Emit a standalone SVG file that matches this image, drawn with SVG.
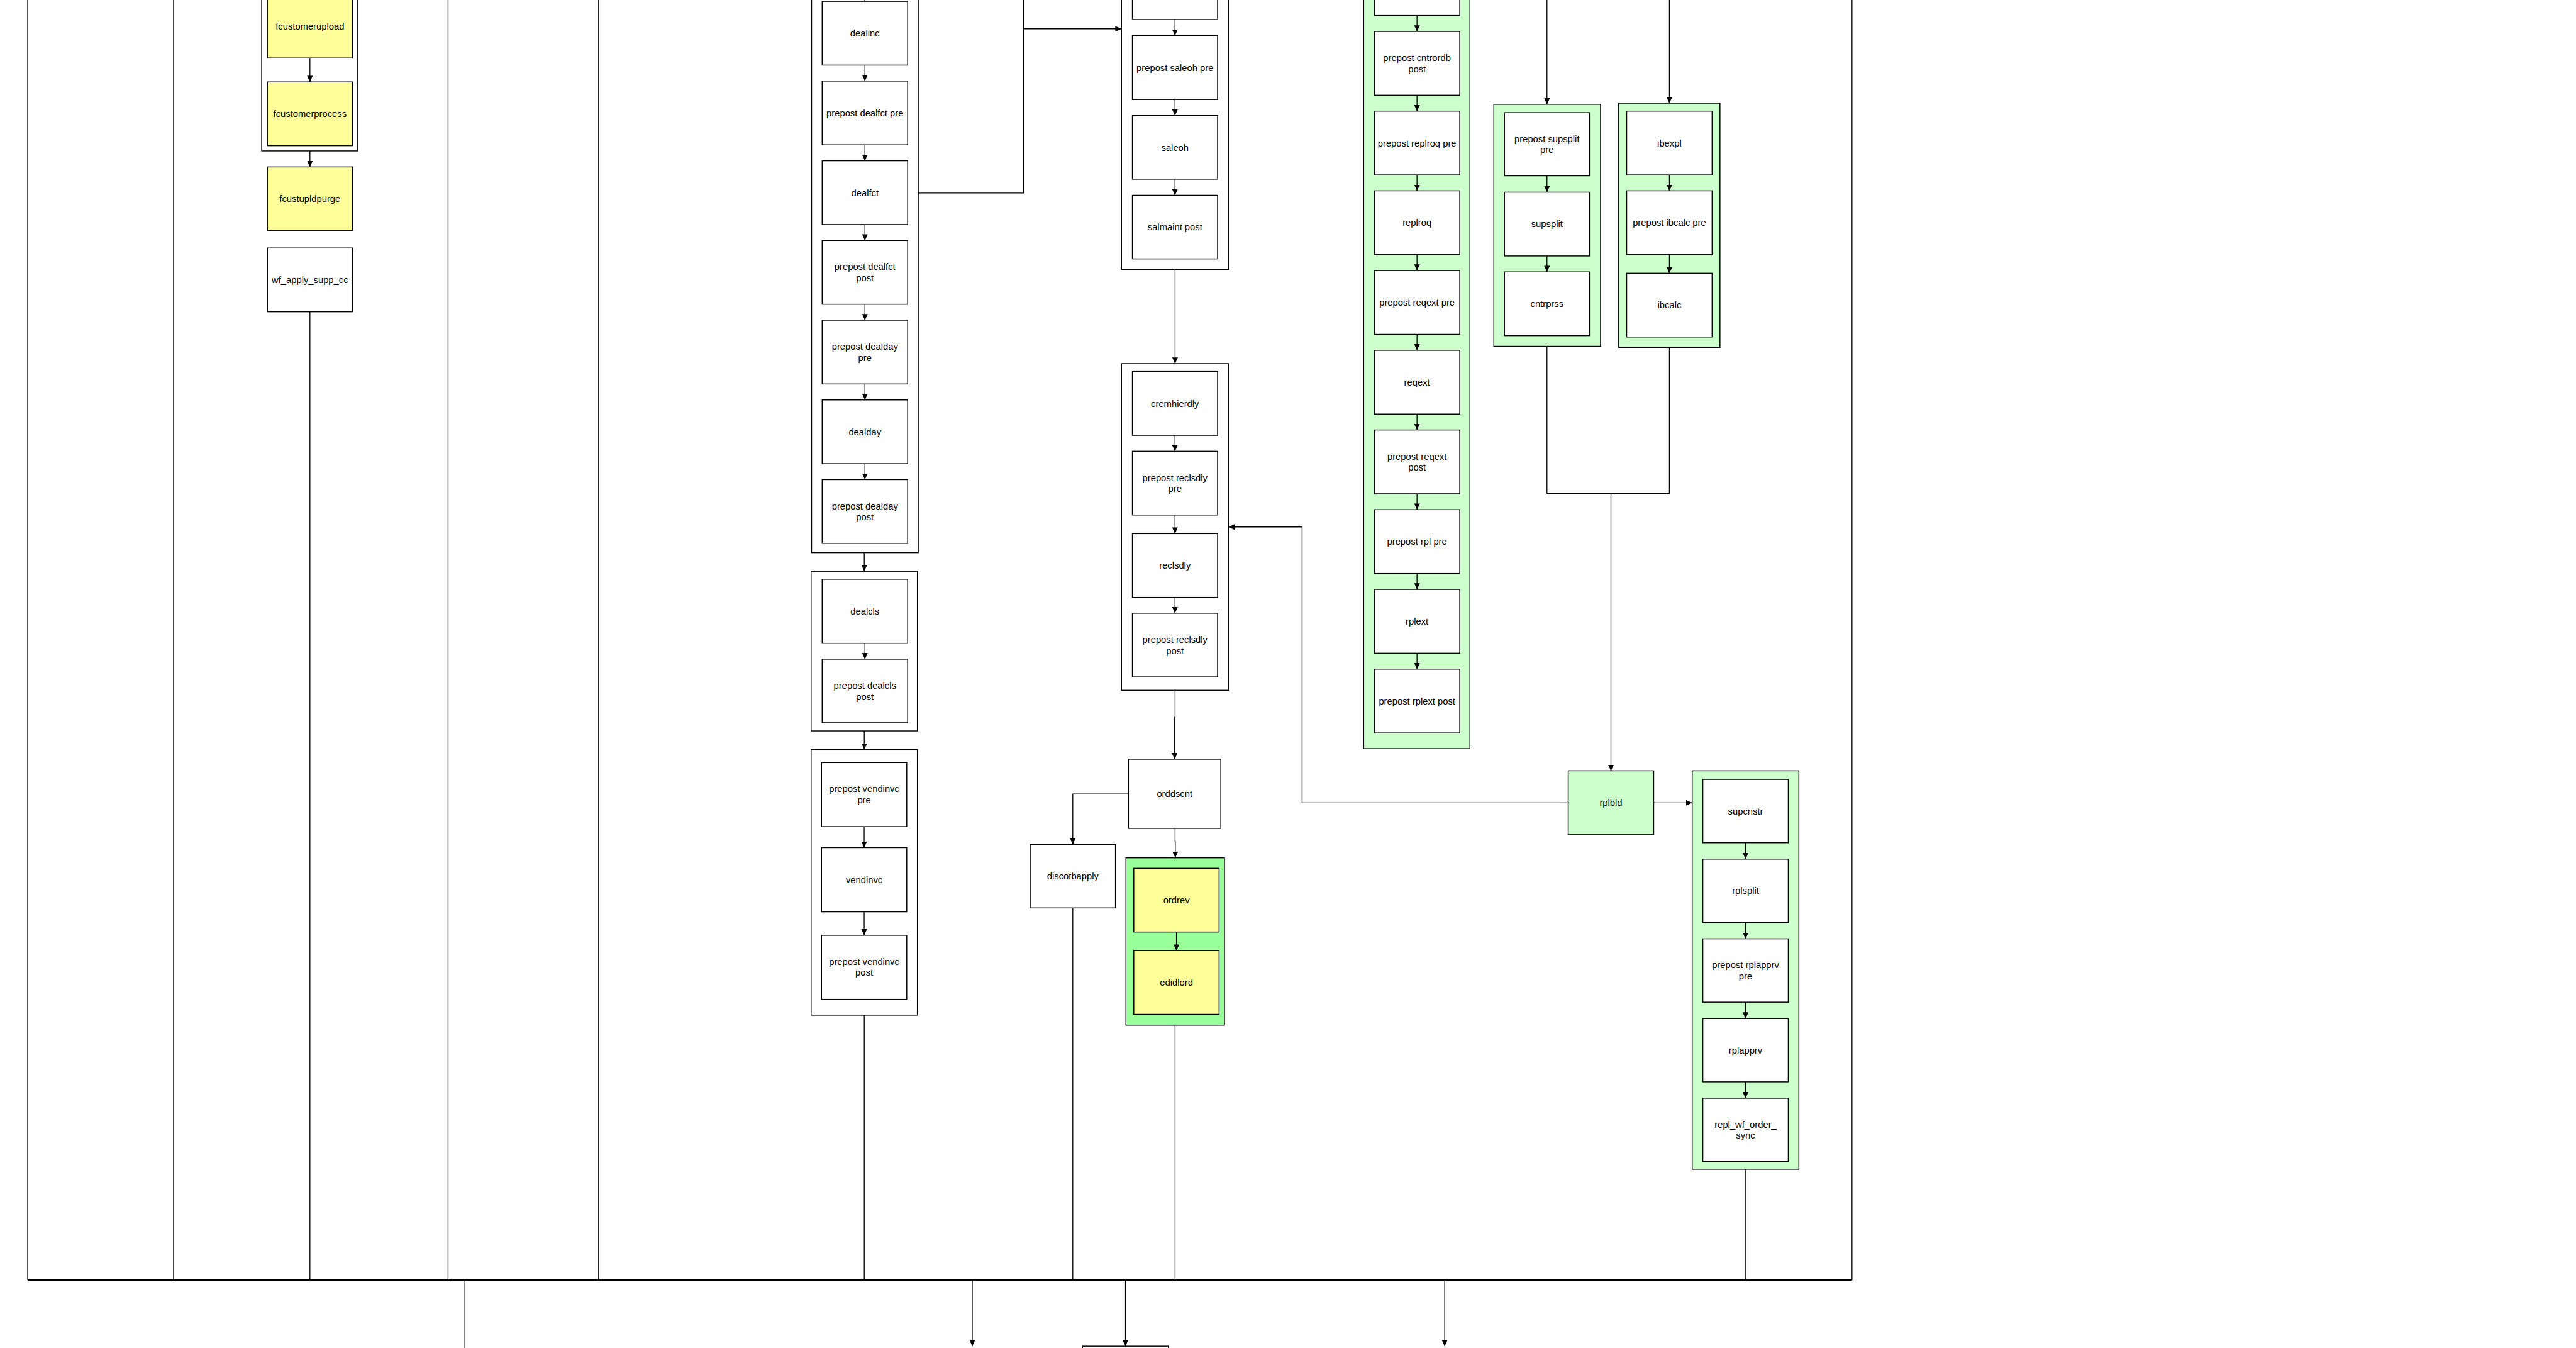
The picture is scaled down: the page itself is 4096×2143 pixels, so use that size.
<svg xmlns="http://www.w3.org/2000/svg" width="4096" height="2143" viewBox="0 0 4096 2143">
<style>
.n{fill:#ffffff;stroke:#000;stroke-width:2.1}
.grp{fill:#ffffff;stroke:#000;stroke-width:2.1}
.y{fill:#ffff99}
.g{fill:#ccffcc}
.gg{fill:#99ff99}
.lane{fill:none;stroke:#000;stroke-width:1.9}
.bar{fill:none;stroke:#000;stroke-width:2.8}
.c{fill:none;stroke:#000;stroke-width:1.9}
.a{marker-end:url(#ah)}
text{font-family:"Liberation Sans",Arial,Helvetica,sans-serif;font-size:21px;text-anchor:middle;fill:#000}
</style>
<defs>
<marker id="ah" markerUnits="userSpaceOnUse" markerWidth="14" markerHeight="13" refX="14" refY="6.5" orient="auto"><path d="M0,0L14,6.5L0,13z" fill="#000"/></marker>
</defs>
<rect x="0" y="0" width="4096" height="2143" fill="#ffffff"/>
<g transform="scale(0.704)">
<g id="lanes">
<line class="lane" x1="62.5" y1="-10" x2="62.5" y2="2890.7"/>
<line class="lane" x1="392" y1="-10" x2="392" y2="2890.7"/>
<line class="lane" x1="1012" y1="-10" x2="1012" y2="2890.7"/>
<line class="lane" x1="1352" y1="-10" x2="1352" y2="2890.7"/>
<line class="lane" x1="4183" y1="-10" x2="4183" y2="2890.7"/>
<line class="bar" x1="62.5" y1="2890.7" x2="4183" y2="2890.7"/>
</g>

<g id="grp_fcustomer"><rect class="grp" x="591" y="-60" width="217" height="400.8"/></g>
<g id="n_fcustomerupload"><rect class="n y" x="604" y="-13" width="192" height="144"/><text x="700" y="66.5">fcustomerupload</text></g>
<g id="n_fcustomerprocess"><rect class="n y" x="604" y="185" width="192" height="144"/><text x="700" y="264.5">fcustomerprocess</text></g>
<g id="n_fcustupldpurge"><rect class="n y" x="604" y="377" width="192" height="144"/><text x="700" y="456.5">fcustupldpurge</text></g>
<g id="n_wf_apply_supp_cc"><rect class="n" x="604" y="560" width="192" height="144"/><text x="700" y="639.5">wf_apply_supp_cc</text></g>

<g id="grp_dealinc"><rect class="grp" x="1833" y="-60" width="241" height="1308"/></g>
<g id="n_dealinc"><rect class="n" x="1857" y="3" width="193" height="144"/><text x="1953.5" y="82.5">dealinc</text></g>
<g id="n_prepost_dealfct_pre"><rect class="n" x="1857" y="183" width="193" height="144"/><text x="1953.5" y="262.5">prepost dealfct pre</text></g>
<g id="n_dealfct"><rect class="n" x="1857" y="363" width="193" height="144"/><text x="1953.5" y="442.5">dealfct</text></g>
<g id="n_prepost_dealfct_post"><rect class="n" x="1857" y="543" width="193" height="144"/><text x="1953.5" y="610">prepost dealfct<tspan x="1953.5" dy="25">post</tspan></text></g>
<g id="n_prepost_dealday_pre"><rect class="n" x="1857" y="723" width="193" height="144"/><text x="1953.5" y="790">prepost dealday<tspan x="1953.5" dy="25">pre</tspan></text></g>
<g id="n_dealday"><rect class="n" x="1857" y="903" width="193" height="144"/><text x="1953.5" y="982.5">dealday</text></g>
<g id="n_prepost_dealday_post"><rect class="n" x="1857" y="1083" width="193" height="144"/><text x="1953.5" y="1150">prepost dealday<tspan x="1953.5" dy="25">post</tspan></text></g>

<g id="grp_dealcls"><rect class="grp" x="1832" y="1290" width="240" height="360.6"/></g>
<g id="n_dealcls"><rect class="n" x="1857" y="1308" width="193" height="144.7"/><text x="1953.5" y="1387.8">dealcls</text></g>
<g id="n_prepost_dealcls_post"><rect class="n" x="1857" y="1488.5" width="193" height="143.5"/><text x="1953.5" y="1555.3">prepost dealcls<tspan x="1953.5" dy="25">post</tspan></text></g>

<g id="grp_vendinvc"><rect class="grp" x="1832" y="1692.6" width="240" height="599.8"/></g>
<g id="n_prepost_vendinvc_pre"><rect class="n" x="1855.5" y="1722" width="192.5" height="144.6"/><text x="1951.8" y="1788.5">prepost vendinvc<tspan x="1951.8" dy="25">pre</tspan></text></g>
<g id="n_vendinvc"><rect class="n" x="1855.5" y="1914" width="192.5" height="145"/><text x="1951.8" y="1994">vendinvc</text></g>
<g id="n_prepost_vendinvc_post"><rect class="n" x="1855.5" y="2112" width="192.5" height="144.7"/><text x="1951.8" y="2178.5">prepost vendinvc<tspan x="1951.8" dy="25">post</tspan></text></g>

<g id="grp_saleoh"><rect class="grp" x="2533" y="-150" width="241.5" height="758.6"/></g>
<g id="n_saleoh_prev"><rect class="n" x="2557.6" y="-100" width="192.4" height="144"/></g>
<g id="n_prepost_saleoh_pre"><rect class="n" x="2557.6" y="80.4" width="192.4" height="144.3"/><text x="2653.8" y="160">prepost saleoh pre</text></g>
<g id="n_saleoh"><rect class="n" x="2557.6" y="261" width="192.4" height="143.6"/><text x="2653.8" y="340.5">saleoh</text></g>
<g id="n_salmaint_post"><rect class="n" x="2557.6" y="441" width="192.4" height="143.6"/><text x="2653.8" y="520.5">salmaint post</text></g>

<g id="grp_cremhierdly"><rect class="grp" x="2533" y="821" width="241.5" height="737.7"/></g>
<g id="n_cremhierdly"><rect class="n" x="2557.6" y="839" width="192.4" height="144"/><text x="2653.8" y="918.5">cremhierdly</text></g>
<g id="n_prepost_reclsdly_pre"><rect class="n" x="2557.6" y="1019" width="192.4" height="144"/><text x="2653.8" y="1086">prepost reclsdly<tspan x="2653.8" dy="25">pre</tspan></text></g>
<g id="n_reclsdly"><rect class="n" x="2557.6" y="1205" width="192.4" height="144"/><text x="2653.8" y="1284.5">reclsdly</text></g>
<g id="n_prepost_reclsdly_post"><rect class="n" x="2557.6" y="1384.7" width="192.4" height="143.8"/><text x="2653.8" y="1451.6">prepost reclsdly<tspan x="2653.8" dy="25">post</tspan></text></g>

<g id="n_orddscnt"><rect class="n" x="2548.7" y="1714.4" width="208.6" height="156.2"/><text x="2653" y="1800">orddscnt</text></g>
<g id="n_discotbapply"><rect class="n" x="2326.8" y="1907" width="192.6" height="143.2"/><text x="2423.1" y="1986">discotbapply</text></g>
<g id="grp_ordrev"><rect class="grp gg" x="2543" y="1937" width="222.6" height="378"/></g>
<g id="n_ordrev"><rect class="n y" x="2560.8" y="1960.7" width="192.6" height="143.9"/><text x="2657.1" y="2040">ordrev</text></g>
<g id="n_edidlord"><rect class="n y" x="2560.8" y="2146.7" width="192.6" height="143.8"/><text x="2657.1" y="2226">edidlord</text></g>

<g id="grp_cntrordb"><rect class="grp g" x="3080" y="-200" width="240" height="1890.5"/></g>
<g id="n_cntrordb_prev"><rect class="n" x="3104" y="-109" width="193" height="144"/></g>
<g id="n_prepost_cntrordb_post"><rect class="n" x="3104" y="71" width="193" height="144"/><text x="3200.5" y="138">prepost cntrordb<tspan x="3200.5" dy="25">post</tspan></text></g>
<g id="n_prepost_replroq_pre"><rect class="n" x="3104" y="251" width="193" height="144"/><text x="3200.5" y="330.5">prepost replroq pre</text></g>
<g id="n_replroq"><rect class="n" x="3104" y="431" width="193" height="144"/><text x="3200.5" y="510.5">replroq</text></g>
<g id="n_prepost_reqext_pre"><rect class="n" x="3104" y="611" width="193" height="144"/><text x="3200.5" y="690.5">prepost reqext pre</text></g>
<g id="n_reqext"><rect class="n" x="3104" y="791" width="193" height="144"/><text x="3200.5" y="870.5">reqext</text></g>
<g id="n_prepost_reqext_post"><rect class="n" x="3104" y="971" width="193" height="144"/><text x="3200.5" y="1038">prepost reqext<tspan x="3200.5" dy="25">post</tspan></text></g>
<g id="n_prepost_rpl_pre"><rect class="n" x="3104" y="1151" width="193" height="144"/><text x="3200.5" y="1230.5">prepost rpl pre</text></g>
<g id="n_rplext"><rect class="n" x="3104" y="1331" width="193" height="144"/><text x="3200.5" y="1410.5">rplext</text></g>
<g id="n_prepost_rplext_post"><rect class="n" x="3104" y="1511" width="193" height="144"/><text x="3200.5" y="1590.5">prepost rplext post</text></g>

<g id="grp_supsplit"><rect class="grp g" x="3374" y="235.5" width="241" height="546.5"/></g>
<g id="n_prepost_supsplit_pre"><rect class="n" x="3398" y="254.5" width="192" height="142.5"/><text x="3494" y="320.8">prepost supsplit<tspan x="3494" dy="25">pre</tspan></text></g>
<g id="n_supsplit"><rect class="n" x="3398" y="434" width="192" height="144"/><text x="3494" y="513.5">supsplit</text></g>
<g id="n_cntrprss"><rect class="n" x="3398" y="614" width="192" height="144"/><text x="3494" y="693.5">cntrprss</text></g>

<g id="grp_ibexpl"><rect class="grp g" x="3656" y="233" width="228.7" height="551.6"/></g>
<g id="n_ibexpl"><rect class="n" x="3674" y="251" width="193" height="144"/><text x="3770.5" y="330.5">ibexpl</text></g>
<g id="n_prepost_ibcalc_pre"><rect class="n" x="3674" y="431" width="193" height="144"/><text x="3770.5" y="510.5">prepost ibcalc pre</text></g>
<g id="n_ibcalc"><rect class="n" x="3674" y="617" width="193" height="144"/><text x="3770.5" y="696.5">ibcalc</text></g>

<g id="n_rplbld"><rect class="n g" x="3542" y="1740.6" width="193" height="144.2"/><text x="3638.5" y="1820.2">rplbld</text></g>

<g id="grp_rpl"><rect class="grp g" x="3822" y="1740.6" width="241" height="899.8"/></g>
<g id="n_supcnstr"><rect class="n" x="3846" y="1760" width="193" height="143"/><text x="3942.5" y="1839">supcnstr</text></g>
<g id="n_rplsplit"><rect class="n" x="3846" y="1940" width="193" height="143"/><text x="3942.5" y="2019">rplsplit</text></g>
<g id="n_prepost_rplapprv_pre"><rect class="n" x="3846" y="2120" width="193" height="143"/><text x="3942.5" y="2186.5">prepost rplapprv<tspan x="3942.5" dy="25">pre</tspan></text></g>
<g id="n_rplapprv"><rect class="n" x="3846" y="2300" width="193" height="143"/><text x="3942.5" y="2379">rplapprv</text></g>
<g id="n_repl_wf_order_sync"><rect class="n" x="3846" y="2480" width="193" height="143"/><text x="3942.5" y="2546.5">repl_wf_order_<tspan x="3942.5" dy="25">sync</tspan></text></g>

<g id="n_bottom_partial"><rect class="n" x="2445" y="3040" width="194" height="150"/></g>

<g id="connectors">
<path class="c a" d="M700,131V185"/>
<path class="c a" d="M700,340.8V377"/>
<path class="c" d="M700,704V2890.7"/>

<path class="c a" d="M1953.5,-30V3"/>
<path class="c a" d="M1953.5,147V183"/>
<path class="c a" d="M1953.5,327V363"/>
<path class="c a" d="M1953.5,507V543"/>
<path class="c a" d="M1953.5,687V723"/>
<path class="c a" d="M1953.5,867V903"/>
<path class="c a" d="M1953.5,1047V1083"/>
<path class="c a" d="M1952,1248V1290"/>
<path class="c a" d="M1953.5,1452.7V1488.5"/>
<path class="c a" d="M1952,1650.6V1692.6"/>
<path class="c a" d="M1951.8,1866.6V1914"/>
<path class="c a" d="M1951.8,2059V2112"/>
<path class="c" d="M1952,2292.4V2890.7"/>

<path class="c a" d="M2074,436H2312V65H2533"/>
<path class="c" d="M2312,65V-20"/>

<path class="c a" d="M2653.8,44V80.4"/>
<path class="c a" d="M2653.8,224.7V261"/>
<path class="c a" d="M2653.8,404.6V441"/>
<path class="c a" d="M2654,608.6V821"/>
<path class="c a" d="M2653.8,983V1019"/>
<path class="c a" d="M2653.8,1163V1205"/>
<path class="c a" d="M2653.8,1349V1384.7"/>
<path class="c a" d="M2654,1558.7V1620H2653V1714.4"/>
<path class="c a" d="M2548.7,1793H2423V1907"/>
<path class="c a" d="M2654,1870.6V1900H2654.5V1937"/>
<path class="c a" d="M2657.1,2104.6V2146.7"/>
<path class="c" d="M2423,2050.2V2890.7"/>
<path class="c" d="M2654,2315V2890.7"/>

<path class="c a" d="M3200.5,35V71"/>
<path class="c a" d="M3200.5,215V251"/>
<path class="c a" d="M3200.5,395V431"/>
<path class="c a" d="M3200.5,575V611"/>
<path class="c a" d="M3200.5,755V791"/>
<path class="c a" d="M3200.5,935V971"/>
<path class="c a" d="M3200.5,1115V1151"/>
<path class="c a" d="M3200.5,1295V1331"/>
<path class="c a" d="M3200.5,1475V1511"/>

<path class="c a" d="M3494,-20V235.5"/>
<path class="c a" d="M3494,397V434"/>
<path class="c a" d="M3494,578V614"/>
<path class="c a" d="M3770.5,-20V233"/>
<path class="c a" d="M3770.5,395V431"/>
<path class="c a" d="M3770.5,575V617"/>
<path class="c" d="M3494,782V1114H3770.5V784.6"/>
<path class="c a" d="M3638.5,1114V1740.6"/>
<path class="c a" d="M3542,1813H2941V1190H2774.5"/>
<path class="c a" d="M3735,1813H3822"/>

<path class="c a" d="M3942.5,1903V1940"/>
<path class="c a" d="M3942.5,2083V2120"/>
<path class="c a" d="M3942.5,2263V2300"/>
<path class="c a" d="M3942.5,2443V2480"/>
<path class="c" d="M3943,2640.4V2890.7"/>

<path class="c" d="M1050,2890.7V3100"/>
<path class="c a" d="M2196,2890.7V3040"/>
<path class="c a" d="M2542,2890.7V3040"/>
<path class="c a" d="M3263,2890.7V3040"/>
</g>
</g>
</svg>
